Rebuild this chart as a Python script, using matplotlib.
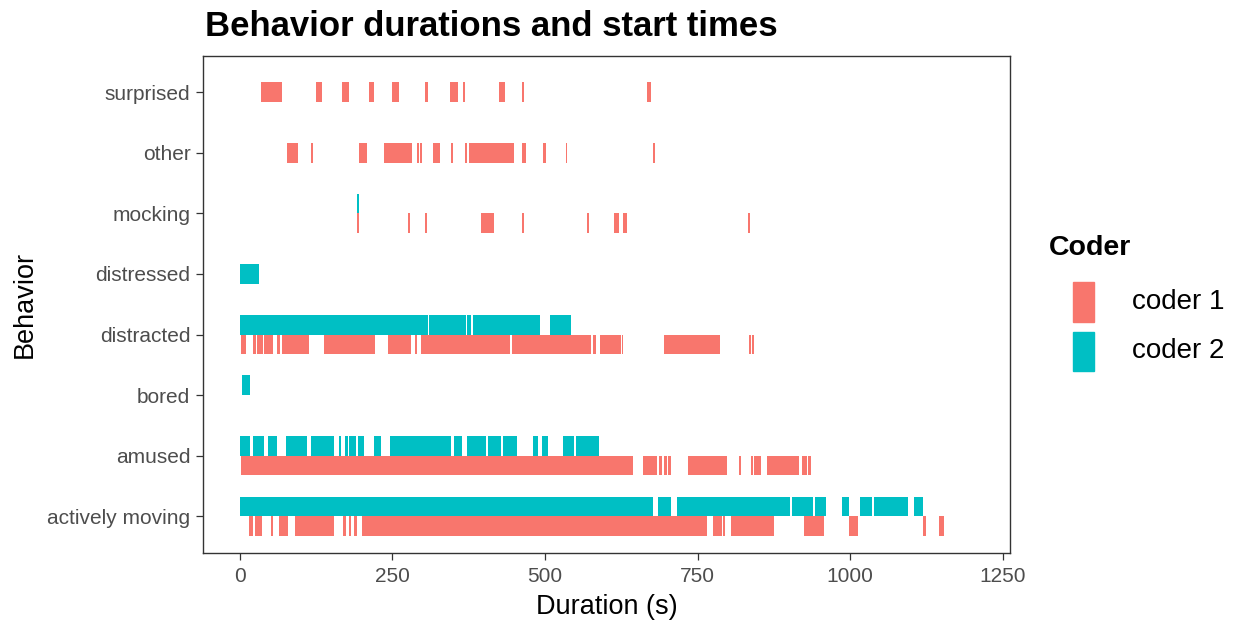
import matplotlib
matplotlib.use("Agg")
import matplotlib.pyplot as plt
from matplotlib.patches import Rectangle

plt.rcParams['font.family'] = ['Liberation Sans', 'DejaVu Sans']

# ---------------- data ----------------
behaviors = ["actively moving", "amused", "bored", "distracted",
             "distressed", "mocking", "other", "surprised"]
coders = ["coder 1", "coder 2"]
coder_colors = ["#F8766D", "#00BFC4"]
x_ticks = [0, 250, 500, 750, 1000, 1250]

# (start, end) in seconds
surprised_coder1 = [(34, 69), (125, 134), (167, 178), (211, 219), (249, 261), (304, 308),
                    (345, 358), (366, 369), (425, 434), (463, 466), (667, 673)]
surprised_coder2 = []

other_coder1 = [(77.5, 96), (116, 119.7), (195.6, 207.7), (236.6, 281.5), (289.7, 293),
                (295.1, 298.9), (316, 328.4), (345.4, 348.7), (368.9, 372.6), (375, 448.7),
                (462.8, 468.9), (496.2, 501.6), (534, 536.6), (677.5, 680.8)]
other_coder2 = []

mocking_coder1 = [(192.3, 195.6), (274.9, 278.2), (303.8, 307), (395.6, 416.4), (462.8, 466.1),
                  (569.3, 572.6), (613.1, 621.8), (627.9, 633.9), (832.1, 836.1)]
mocking_coder2 = [(192.3, 195.6)]

distressed_coder1 = []
distressed_coder2 = [(0, 30.7)]

distracted_coder1 = [(1, 9.3), (21.8, 25.7), (28.4, 37.2), (39.8, 54.6), (60.2, 65.6),
                     (69.3, 113.1), (137.2, 221.8), (243.1, 280.3), (286.4, 289.7),
                     (296.2, 442.6), (446.4, 574.9), (579.2, 583.6), (590.2, 624.1),
                     (626.2, 628.4), (695.6, 786.9), (833.9, 837.7), (839.8, 843.1)]
distracted_coder2 = [(0, 307.7), (310.3, 370), (372.1, 378.2), (381.5, 491.8), (508.2, 542.1)]

bored_coder1 = [(8, 8)]   # zero-length event: invisible, but coder 1 is present
bored_coder2 = [(3.8, 15.9)]

amused_coder1 = [(1.6, 644.8), (661.1, 684.1), (686.9, 692.3), (695.6, 699.5), (702.1, 706.6),
                 (733.9, 798.9), (818.5, 821.8), (837.2, 840.5), (842.6, 854.6),
                 (863.4, 916.4), (921.8, 929), (931.1, 936.6)]
amused_coder2 = [(0, 16.4), (21.8, 39.8), (45.4, 60.2), (75.4, 110.3), (116.4, 154.6),
                 (162.8, 166.1), (172.6, 176.6), (179.2, 190.2), (193, 203.8), (219.2, 230.7),
                 (245.4, 345.4), (350.8, 363.4), (371.6, 402.8), (407, 427.4), (431.6, 454.6),
                 (480.8, 489), (494.6, 504.4), (530, 547.5), (550.8, 588.5)]

actively_moving_coder1 = [(15.2, 20.8), (24.6, 36.6), (51.3, 54.1), (63.4, 78.2), (89.7, 154.6),
                          (169.3, 173.3), (178.2, 181.5), (186.9, 191.8), (199.5, 766.1),
                          (775.9, 789.7), (791.8, 795.1), (804.4, 874.9), (925.1, 957.4),
                          (998.9, 1013.1), (1119.2, 1124.1), (1145.4, 1154.1)]
actively_moving_coder2 = [(0, 677.5), (684.8, 706.6), (716.4, 901.6), (904.4, 939.8),
                          (942.6, 960.2), (986.9, 998.4), (1016.4, 1036.6), (1039.3, 1095.6),
                          (1104.4, 1119.2)]

segments = {
    "actively moving": (actively_moving_coder1, actively_moving_coder2),
    "amused": (amused_coder1, amused_coder2),
    "bored": (bored_coder1, bored_coder2),
    "distracted": (distracted_coder1, distracted_coder2),
    "distressed": (distressed_coder1, distressed_coder2),
    "mocking": (mocking_coder1, mocking_coder2),
    "other": (other_coder1, other_coder2),
    "surprised": (surprised_coder1, surprised_coder2),
}

# ---------------- figure ----------------
W, H = 1233, 622
fig = plt.figure(figsize=(W / 100, H / 100), dpi=100)
ax = fig.add_axes([203.3 / W, 1 - 552.7 / H, (1010 - 203.3) / W, (552.7 - 55.7) / H])

bar_h = 0.325
for i, beh in enumerate(behaviors):
    y0 = i + 1
    groups = segments[beh]
    present = [k for k in range(2) if len(groups[k]) > 0]
    for k in present:
        if len(present) == 2:
            yc = y0 - bar_h / 2 if k == 0 else y0 + bar_h / 2
        else:
            yc = y0
        segs = groups[k]
        starts = [s for s, e in segs]
        widths = [e - s for s, e in segs]
        ax.barh([yc] * len(segs), widths, left=starts, height=bar_h,
                color=coder_colors[k], edgecolor='none', linewidth=0)

ax.set_xlim(-60, 1262)
ax.set_ylim(0.4, 8.6)
ax.set_yticks(range(1, len(behaviors) + 1))
ax.set_yticklabels(behaviors)
ax.set_xticks(x_ticks)
ax.set_xticklabels([str(t) for t in x_ticks])

for sp in ax.spines.values():
    sp.set_color('#333333')
    sp.set_linewidth(1.0)
ax.tick_params(axis='both', length=4.8, width=0.9, color='#333333',
               labelsize=15, labelcolor='#4D4D4D')
ax.tick_params(axis='x', pad=5.5)
ax.tick_params(axis='y', pad=4.5)

ax.set_xlabel("Duration (s)", fontsize=19.5, color='black', labelpad=6)
ax.set_ylabel("Behavior", fontsize=19.5, color='black', labelpad=7)

fig.text(205 / W, 1 - 26 / H, "Behavior durations and start times",
         fontsize=25, fontweight='bold', ha='left', va='center')

# legend
fig.text(1049 / W, 1 - 248 / H, "Coder", fontsize=20.5, fontweight='bold',
         ha='left', va='center')
key_boxes = [(282, 322), (332, 371)]
for k, (yt, yb) in enumerate(key_boxes):
    fig.patches.append(Rectangle((1073 / W, 1 - yb / H), 21 / W, (yb - yt) / H,
                                 transform=fig.transFigure, color=coder_colors[k]))
    fig.text(1132 / W, 1 - (yt + yb) / 2 / H, coders[k], fontsize=20,
             ha='left', va='center')

fig.savefig("out.png", dpi=100)
